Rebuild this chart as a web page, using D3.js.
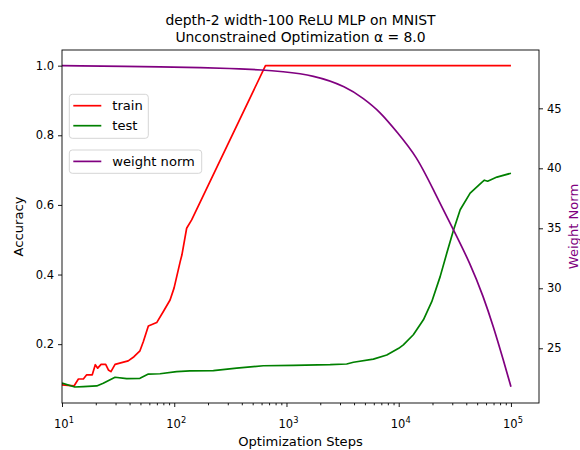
<!DOCTYPE html>
<html>
<head>
<meta charset="utf-8">
<script src="https://cdn.jsdelivr.net/npm/d3@7"></script>
<style>
  body { margin: 0; background: #fff; }
  svg { font-family: "DejaVu Sans", sans-serif; }
</style>
</head>
<body>
<div id="chart"></div>
<script>
// data
const trainSteps = [10, 12.8, 14, 15.5, 16.6, 18.6, 19.8, 20.8, 22.3, 24.5, 25.9, 27.3, 29.7, 38.9, 43.8, 49.5, 53, 58.8, 69.8, 80, 91.8, 99.6, 113, 117, 129, 143, 650, 100000];
const trainAcc = [0.083, 0.080, 0.10, 0.10, 0.112, 0.112, 0.141, 0.131, 0.142, 0.142, 0.126, 0.121, 0.142, 0.152, 0.164, 0.181, 0.207, 0.252, 0.262, 0.294, 0.327, 0.361, 0.437, 0.456, 0.533, 0.557, 1.0, 1.0];

const testSteps = [10, 13, 15.5, 20.4, 23.3, 29.7, 37.7, 49.5, 58.8, 74.7, 105, 138, 223, 360, 622, 1150, 2450, 3440, 3950, 5950, 7830, 10000, 11000, 13500, 16600, 19700, 23400, 26800, 30800, 35300, 43300, 55000, 58000, 62000, 75000, 100000];
const testAcc = [0.088, 0.077, 0.078, 0.080, 0.088, 0.105, 0.101, 0.102, 0.114, 0.115, 0.121, 0.123, 0.124, 0.131, 0.138, 0.139, 0.141, 0.143, 0.148, 0.157, 0.169, 0.188, 0.198, 0.227, 0.270, 0.322, 0.394, 0.461, 0.528, 0.586, 0.634, 0.665, 0.671, 0.668, 0.680, 0.691];

const normSteps = [10, 100, 170, 300, 646, 877, 1740, 3440, 4840, 6820, 9610, 14500, 20400, 30800, 43300, 56900, 69800, 85700, 100000];
const normVals = [48.55, 48.45, 48.40, 48.33, 48.19, 48.08, 47.78, 46.8, 45.83, 44.72, 43.05, 41.0, 38.19, 34.86, 32.08, 29.3, 26.8, 24.0, 21.8];

const accTicks = [0.2, 0.4, 0.6, 0.8, 1.0];
const normTicks = [25, 30, 35, 40, 45];
const stepTicks = [10, 100, 1000, 10000, 100000];

const titleLines = ["depth-2 width-100 ReLU MLP on MNIST", "Unconstrained Optimization \u03b1 = 8.0"];

const W = 580, H = 450;
const plot = {left: 62, right: 539, top: 50, bottom: 403};

const svg = d3.select("#chart").append("svg")
    .attr("width", W)
    .attr("height", H);

const x = d3.scaleLog()
    .domain([10, Math.pow(10, 5.25)])
    .range([plot.left, plot.right]);

const yAcc = d3.scaleLinear()
    .domain([0.031, 1.045])
    .range([plot.bottom, plot.top]);

const yNorm = d3.scaleLinear()
    .domain([20.44, 49.86])
    .range([plot.bottom, plot.top]);

// clip for the curves
svg.append("clipPath").attr("id", "clip")
    .append("rect")
    .attr("x", plot.left).attr("y", plot.top)
    .attr("width", plot.right - plot.left)
    .attr("height", plot.bottom - plot.top);

const tickFs = 11.5;
const fs = 13.1;
const titleFs = 13.9;

// x axis with major + minor ticks
let minor = [];
for (let e = 1; e <= 5; e++) {
    for (let m = 2; m <= 9; m++) {
        let v = m * Math.pow(10, e);
        if (v <= x.domain()[1]) minor.push(v);
    }
}
const xAxisMinor = d3.axisBottom(x).tickValues(minor).tickSize(2.3).tickFormat("");
const xAxis = d3.axisBottom(x).tickValues(stepTicks).tickSize(4).tickFormat("");

const gxMinor = svg.append("g")
    .attr("transform", "translate(0," + plot.bottom + ")")
    .call(xAxisMinor);
const gx = svg.append("g")
    .attr("transform", "translate(0," + plot.bottom + ")")
    .call(xAxis);

[gx, gxMinor].forEach(g => {
    g.select(".domain").remove();
    g.selectAll("line").attr("stroke", "#000").attr("stroke-width", 0.9);
});

// tick labels as 10 with exponent
stepTicks.forEach(v => {
    let t = svg.append("text")
        .attr("x", x(v) + 2)
        .attr("y", plot.bottom + 25)
        .attr("text-anchor", "middle")
        .attr("font-size", tickFs)
        .attr("fill", "#000");
    t.append("tspan").text("10");
    t.append("tspan")
        .attr("font-size", tickFs * 0.72)
        .attr("dy", -5)
        .text(Math.round(Math.log10(v)));
});

// left axis
const gyl = svg.append("g")
    .attr("transform", "translate(" + plot.left + ",0)")
    .call(d3.axisLeft(yAcc).tickValues(accTicks).tickSize(4).tickPadding(4).tickFormat(d3.format(".1f")));
gyl.select(".domain").remove();
gyl.selectAll("line").attr("stroke", "#000").attr("stroke-width", 0.9);
gyl.selectAll("text").attr("font-size", tickFs).attr("font-family", "DejaVu Sans").attr("fill", "#000");

// right axis
const gyr = svg.append("g")
    .attr("transform", "translate(" + plot.right + ",0)")
    .call(d3.axisRight(yNorm).tickValues(normTicks).tickSize(4).tickPadding(4));
gyr.select(".domain").remove();
gyr.selectAll("line").attr("stroke", "#000").attr("stroke-width", 0.9);
gyr.selectAll("text").attr("font-size", tickFs).attr("font-family", "DejaVu Sans").attr("fill", "#000");

// lines
const lineAcc = d3.line().x(d => x(d[0])).y(d => yAcc(d[1]));
const lineNorm = d3.line().x(d => x(d[0])).y(d => yNorm(d[1])).curve(d3.curveBasis);

const curves = svg.append("g").attr("clip-path", "url(#clip)");

curves.append("path")
    .datum(d3.zip(trainSteps, trainAcc))
    .attr("d", lineAcc)
    .attr("fill", "none")
    .attr("stroke", "red")
    .attr("stroke-width", 1.7)
    .attr("stroke-linejoin", "round");

curves.append("path")
    .datum(d3.zip(testSteps, testAcc))
    .attr("d", lineAcc)
    .attr("fill", "none")
    .attr("stroke", "green")
    .attr("stroke-width", 1.7)
    .attr("stroke-linejoin", "round");

curves.append("path")
    .datum(d3.zip(normSteps, normVals))
    .attr("d", lineNorm)
    .attr("fill", "none")
    .attr("stroke", "purple")
    .attr("stroke-width", 1.7);

// frame
svg.append("rect")
    .attr("x", plot.left).attr("y", plot.top)
    .attr("width", plot.right - plot.left)
    .attr("height", plot.bottom - plot.top)
    .attr("fill", "none")
    .attr("stroke", "#000")
    .attr("stroke-width", 0.9);

// title
svg.selectAll(".title")
    .data(titleLines)
    .enter().append("text")
    .attr("class", "title")
    .attr("x", (plot.left + plot.right) / 2)
    .attr("y", (d, i) => 25 + i * 17)
    .attr("text-anchor", "middle")
    .attr("font-size", titleFs)
    .attr("fill", "#000")
    .text(d => d);

// axis labels
svg.append("text")
    .attr("x", (plot.left + plot.right) / 2)
    .attr("y", 446)
    .attr("text-anchor", "middle")
    .attr("font-size", fs)
    .text("Optimization Steps");

svg.append("text")
    .attr("transform", "translate(23," + (plot.top + plot.bottom) / 2 + ") rotate(-90)")
    .attr("text-anchor", "middle")
    .attr("font-size", fs)
    .text("Accuracy");

svg.append("text")
    .attr("transform", "translate(578," + (plot.top + plot.bottom) / 2 + ") rotate(-90)")
    .attr("text-anchor", "middle")
    .attr("font-size", fs)
    .attr("fill", "purple")
    .text("Weight Norm");

// legends
function legend(items, x0, y0, w, h) {
    let g = svg.append("g");
    g.append("rect")
        .attr("x", x0).attr("y", y0)
        .attr("width", w).attr("height", h)
        .attr("rx", 3)
        .attr("fill", "white")
        .attr("fill-opacity", 0.8)
        .attr("stroke", "#d5d5d5")
        .attr("stroke-width", 1);
    items.forEach((it, i) => {
        let cy = y0 + 11.4 + i * 20;
        g.append("line")
            .attr("x1", x0 + 4).attr("x2", x0 + 32)
            .attr("y1", cy).attr("y2", cy)
            .attr("stroke", it.color)
            .attr("stroke-width", 1.7);
        g.append("text")
            .attr("x", x0 + 43)
            .attr("y", cy + 4.5)
            .attr("font-size", fs)
            .attr("fill", "#000")
            .text(it.label);
    });
}
legend([{label: "train", color: "red"}, {label: "test", color: "green"}], 69.3, 94.3, 79, 44);
legend([{label: "weight norm", color: "purple"}], 69.3, 150, 132.4, 23.3);
</script>
</body>
</html>
